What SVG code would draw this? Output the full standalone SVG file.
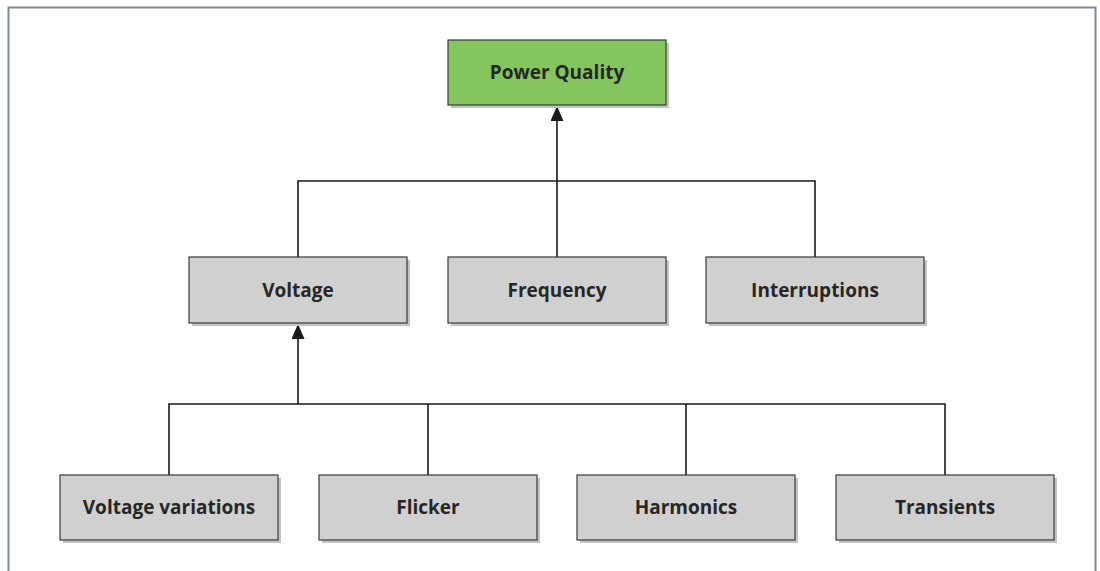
<svg xmlns="http://www.w3.org/2000/svg" width="1100" height="571" viewBox="0 0 1100 571">
<defs>
<style>
.box{stroke:#3a3a3a;stroke-width:1.2}
.g{fill:#d0d0d0}
.pq{fill:#84c55e}
.sh{fill:#c4c4c4}
.t{font-family:"Open Sans","Liberation Sans",sans-serif;font-weight:bold;font-size:19px;fill:#262626;text-anchor:middle}
.c{fill:none;stroke:#1a1a1a;stroke-width:1.6}
</style>
<marker id="ah2" viewBox="0 0 10 10" refX="10" refY="5" markerWidth="15" markerHeight="13" orient="auto" markerUnits="userSpaceOnUse" preserveAspectRatio="none">
<path d="M0,0 L10,5 L0,10 z" fill="#1a1a1a"/>
</marker>
</defs>
<rect width="1100" height="571" fill="#ffffff"/>
<path d="M8.5,571 V7.5 H1095.5 V571" fill="none" stroke="#7a8a96" stroke-width="2"/>
<g id="connectors">
<path class="c" d="M298,257 V181 H815 V257 M557,257 V181"/>
<path class="c" d="M557,181 V106" marker-end="url(#ah2)"/>
<path class="c" d="M169,475 V404 H945 V475 M428,475 V404 M686,475 V404"/>
<path class="c" d="M298,404 V324" stroke-width="2.4" marker-end="url(#ah2)"/>
</g>
<g id="power-quality">
<rect class="sh" x="451" y="43" width="218" height="65"/>
<rect class="box pq" x="448" y="40" width="218" height="65"/>
<text class="t" x="557" y="79">Power Quality</text>
</g>
<g id="voltage">
<rect class="sh" x="192" y="260" width="218" height="66"/>
<rect class="box g" x="189" y="257" width="218" height="66"/>
<text class="t" x="298" y="297">Voltage</text>
</g>
<g id="frequency">
<rect class="sh" x="451" y="260" width="218" height="66"/>
<rect class="box g" x="448" y="257" width="218" height="66"/>
<text class="t" x="557" y="297">Frequency</text>
</g>
<g id="interruptions">
<rect class="sh" x="709" y="260" width="218" height="66"/>
<rect class="box g" x="706" y="257" width="218" height="66"/>
<text class="t" x="815" y="297">Interruptions</text>
</g>
<g id="voltage-variations">
<rect class="sh" x="63" y="478" width="218" height="65"/>
<rect class="box g" x="60" y="475" width="218" height="65"/>
<text class="t" x="169" y="514">Voltage variations</text>
</g>
<g id="flicker">
<rect class="sh" x="322" y="478" width="218" height="65"/>
<rect class="box g" x="319" y="475" width="218" height="65"/>
<text class="t" x="428" y="514">Flicker</text>
</g>
<g id="harmonics">
<rect class="sh" x="580" y="478" width="218" height="65"/>
<rect class="box g" x="577" y="475" width="218" height="65"/>
<text class="t" x="686" y="514">Harmonics</text>
</g>
<g id="transients">
<rect class="sh" x="839" y="478" width="218" height="65"/>
<rect class="box g" x="836" y="475" width="218" height="65"/>
<text class="t" x="945" y="514">Transients</text>
</g>
</svg>
